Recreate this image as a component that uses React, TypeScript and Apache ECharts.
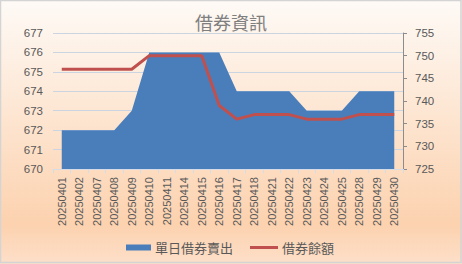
import React, { useEffect, useRef } from "react";
import * as echarts from "echarts";

const categories = [
  "20250401", "20250402", "20250407", "20250408", "20250409",
  "20250410", "20250411", "20250414", "20250415", "20250416",
  "20250417", "20250418", "20250421", "20250422", "20250423",
  "20250424", "20250425", "20250428", "20250429", "20250430",
];
const dailySell = [672, 672, 672, 672, 673, 676, 676, 676, 676, 676, 674, 674, 674, 674, 673, 673, 673, 674, 674, 674];
const balance = [747, 747, 747, 747, 747, 750, 750, 750, 750, 739, 736, 737, 737, 737, 736, 736, 736, 737, 737, 737];
const leftTicks = { min: 670, max: 677, interval: 1 };
const rightTicks = { min: 725, max: 755, interval: 5 };
const title = "借券資訊";
const seriesNames = ["單日借券賣出", "借券餘額"];

export default function App() {
  const ref = useRef<HTMLDivElement>(null);
  useEffect(() => {
    document.body.style.margin = "0";
    const chart = echarts.init(ref.current!, undefined, { renderer: "svg" });
    const font = "'Noto Sans CJK TC', 'Liberation Sans', sans-serif";
    chart.setOption({
      animation: false,
      backgroundColor: {
        type: "linear", x: 0, y: 0, x2: 0, y2: 1,
        colorStops: [
          { offset: 0, color: "#fefaf6" },
          { offset: 0.85, color: "#fcd2af" },
          { offset: 1, color: "#fddfc9" },
        ],
      },
      textStyle: { fontFamily: font },
      title: {
        text: title,
        left: "center",
        top: 8,
        textStyle: { color: "#7f7f7f", fontSize: 18, fontWeight: "normal", fontFamily: font },
      },
      graphic: [
        {
          type: "rect",
          shape: { x: 0.5, y: 0.5, width: 460.5, height: 262 },
          style: { fill: "none", stroke: "#d4d4d4", lineWidth: 1.5 },
          silent: true,
          z: 100,
        },
      ],
      grid: { left: 53, right: 59, top: 33, bottom: 95 },
      legend: [
        {
          data: [seriesNames[0]],
          icon: "rect",
          itemWidth: 25,
          itemHeight: 6,
          itemGap: 4,
          left: 121,
          top: 236,
          textStyle: { color: "#595959", fontSize: 13, fontFamily: font, padding: [0, 0, 0, -1] },
        },
        {
          data: [seriesNames[1]],
          icon: "rect",
          itemWidth: 28,
          itemHeight: 3,
          left: 245,
          top: 236,
          textStyle: { color: "#595959", fontSize: 13, fontFamily: font, padding: [0, 0, 0, -1] },
        },
      ],
      xAxis: {
        type: "category",
        data: categories,
        boundaryGap: true,
        axisLine: { show: true, lineStyle: { color: "#d6dce6", width: 1 } },
        axisTick: { show: true, alignWithLabel: false, length: 4, lineStyle: { color: "#d6dce6" } },
        axisLabel: {
          rotate: 90,
          interval: 0,
          margin: 8,
          color: "#595959",
          fontSize: 11,
          fontFamily: "'Liberation Sans', sans-serif",
        },
      },
      yAxis: [
        {
          type: "value",
          min: leftTicks.min,
          max: leftTicks.max,
          interval: leftTicks.interval,
          axisLine: { show: false },
          axisTick: { show: false },
          splitLine: { lineStyle: { color: "#cbd5e2", width: 1 } },
          axisLabel: { color: "#595959", fontSize: 11.5, margin: 10, fontFamily: "'Liberation Sans', sans-serif" },
        },
        {
          type: "value",
          position: "right",
          min: rightTicks.min,
          max: rightTicks.max,
          interval: rightTicks.interval,
          axisLine: { show: true, lineStyle: { color: "#8c8c8c", width: 1 } },
          axisTick: { show: true, inside: false, length: 4, lineStyle: { color: "#8c8c8c" } },
          splitLine: { show: false },
          axisLabel: { color: "#595959", fontSize: 11.5, margin: 12, fontFamily: "'Liberation Sans', sans-serif" },
        },
      ],
      series: [
        {
          name: seriesNames[0],
          type: "line",
          yAxisIndex: 0,
          data: dailySell,
          symbol: "none",
          lineStyle: { width: 0, color: "#4a7ebb" },
          itemStyle: { color: "#4a7ebb" },
          areaStyle: { color: "#4a7ebb", opacity: 1, origin: "start" },
          z: 1,
        },
        {
          name: seriesNames[1],
          type: "line",
          yAxisIndex: 1,
          data: balance,
          symbol: "none",
          lineStyle: { width: 3, color: "#c0504d" },
          itemStyle: { color: "#c0504d" },
          z: 3,
        },
      ],
    });
    return () => chart.dispose();
  }, []);
  return <div ref={ref} style={{ width: 462, height: 264 }} />;
}
